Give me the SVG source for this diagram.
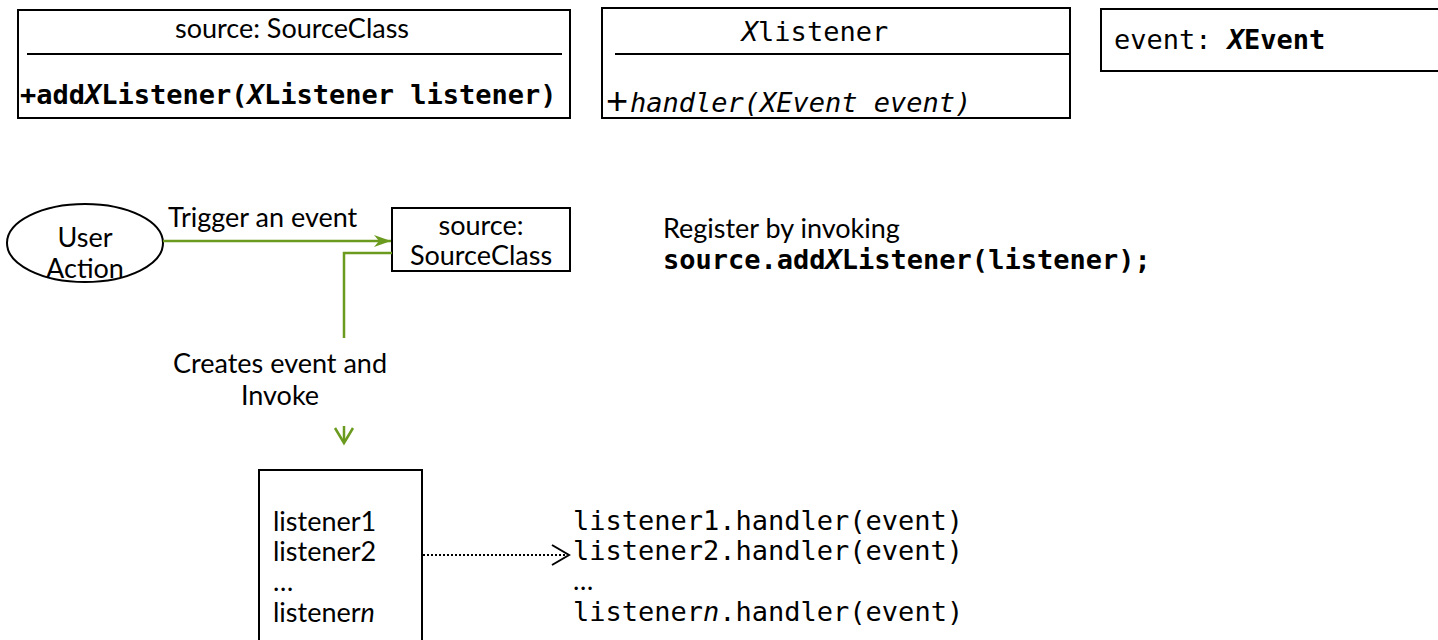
<svg xmlns="http://www.w3.org/2000/svg" width="1438" height="640" viewBox="0 0 1438 640">
<style>
.box{fill:#fff;stroke:#000;stroke-width:2}
.sans{font-family:Lato,"Open Sans","Liberation Sans",sans-serif;font-size:27px;fill:#000}
.mono{font-family:"DejaVu Sans Mono","Liberation Mono",monospace;font-size:27px;fill:#000}
.green{stroke:#6B9B1E;stroke-width:2.5;fill:none}
</style>
<defs>
<marker id="garrow" markerWidth="18" markerHeight="12" refX="17" refY="6" orient="auto" markerUnits="userSpaceOnUse">
<path d="M0,0 L17,6 L0,12 L5,6 Z" fill="#6B9B1E"/>
</marker>
</defs>
<rect width="1438" height="640" fill="#fff"/>
<g id="sourceClass">
<rect class="box" x="18" y="10" width="552" height="108"/>
<line x1="27" y1="54" x2="562" y2="54" stroke="#000" stroke-width="2"/>
<text class="sans" x="292" y="38" text-anchor="middle" font-size="24">source: SourceClass</text>
<text class="mono" x="20" y="104" font-weight="bold">+add<tspan font-style="italic">X</tspan>Listener(<tspan font-style="italic">X</tspan>Listener listener)</text>
</g>
<g id="xListener">
<rect class="box" x="602" y="8" width="468" height="110"/>
<line x1="615" y1="54" x2="1070" y2="54" stroke="#000" stroke-width="2"/>
<text class="mono" x="815" y="41" text-anchor="middle" font-size="21"><tspan font-style="italic">X</tspan>listener</text>
<text x="606" y="114" font-family="'Liberation Sans',sans-serif" font-size="38">+</text>
<text class="mono" x="630" y="112" font-style="italic" font-size="29">handler(XEvent event)</text>
</g>
<g id="xEvent">
<rect class="box" x="1101" y="9" width="345" height="62"/>
<text class="mono" x="1114" y="49" font-size="28">event: <tspan font-weight="bold"><tspan font-style="italic">X</tspan>Event</tspan></text>
</g>
<g id="userAction">
<ellipse cx="85" cy="243" rx="78" ry="39" fill="#fff" stroke="#000" stroke-width="2"/>
<text class="sans" x="85" y="247" text-anchor="middle" font-size="25">User</text>
<text class="sans" x="85" y="278" text-anchor="middle" font-size="25">Action</text>
</g>
<g id="source">
<rect class="box" x="392" y="208" width="178" height="63"/>
<text class="sans" x="481" y="235" text-anchor="middle" font-size="24">source:</text>
<text class="sans" x="481" y="265" text-anchor="middle" font-size="24">SourceClass</text>
</g>
<g id="listeners">
<rect class="box" x="259" y="470" width="163" height="180"/>
<text class="sans" x="273" y="531">listener1</text>
<text class="sans" x="273" y="561">listener2</text>
<text class="sans" x="273" y="591">…</text>
<text class="sans" x="273" y="622">listener<tspan font-style="italic">n</tspan></text>
</g>
<g id="register">
<text class="sans" x="663" y="238" font-size="27.5">Register by invoking</text>
<text class="mono" x="663" y="269" font-size="26" font-weight="bold">source.add<tspan font-style="italic">X</tspan>Listener(listener);</text>
</g>
<g id="calls">
<text class="mono" x="573" y="530">listener1.handler(event)</text>
<text class="mono" x="573" y="560">listener2.handler(event)</text>
<text class="sans" x="573" y="590" font-size="22">…</text>
<text class="mono" x="573" y="621">listener<tspan font-style="italic">n</tspan>.handler(event)</text>
</g>
<g id="connectors">
<line class="green" x1="163" y1="241" x2="391" y2="241" marker-end="url(#garrow)"/>
<text class="sans" x="168" y="227" font-size="26.5">Trigger an event</text>
<polyline class="green" points="392,253 344,253 344,338"/>
<text class="sans" x="280" y="373" text-anchor="middle">Creates event and</text>
<text class="sans" x="280" y="405" text-anchor="middle">Invoke</text>
<polyline class="green" points="335,428 344,443 353,428"/>
<line x1="344" y1="426" x2="344" y2="441" class="green"/>
<line x1="423" y1="555" x2="566" y2="555" stroke="#000" stroke-width="2" stroke-dasharray="2 2"/>
<polyline points="552,545 569,555 552,565" fill="none" stroke="#000" stroke-width="2"/>
</g>
</svg>
